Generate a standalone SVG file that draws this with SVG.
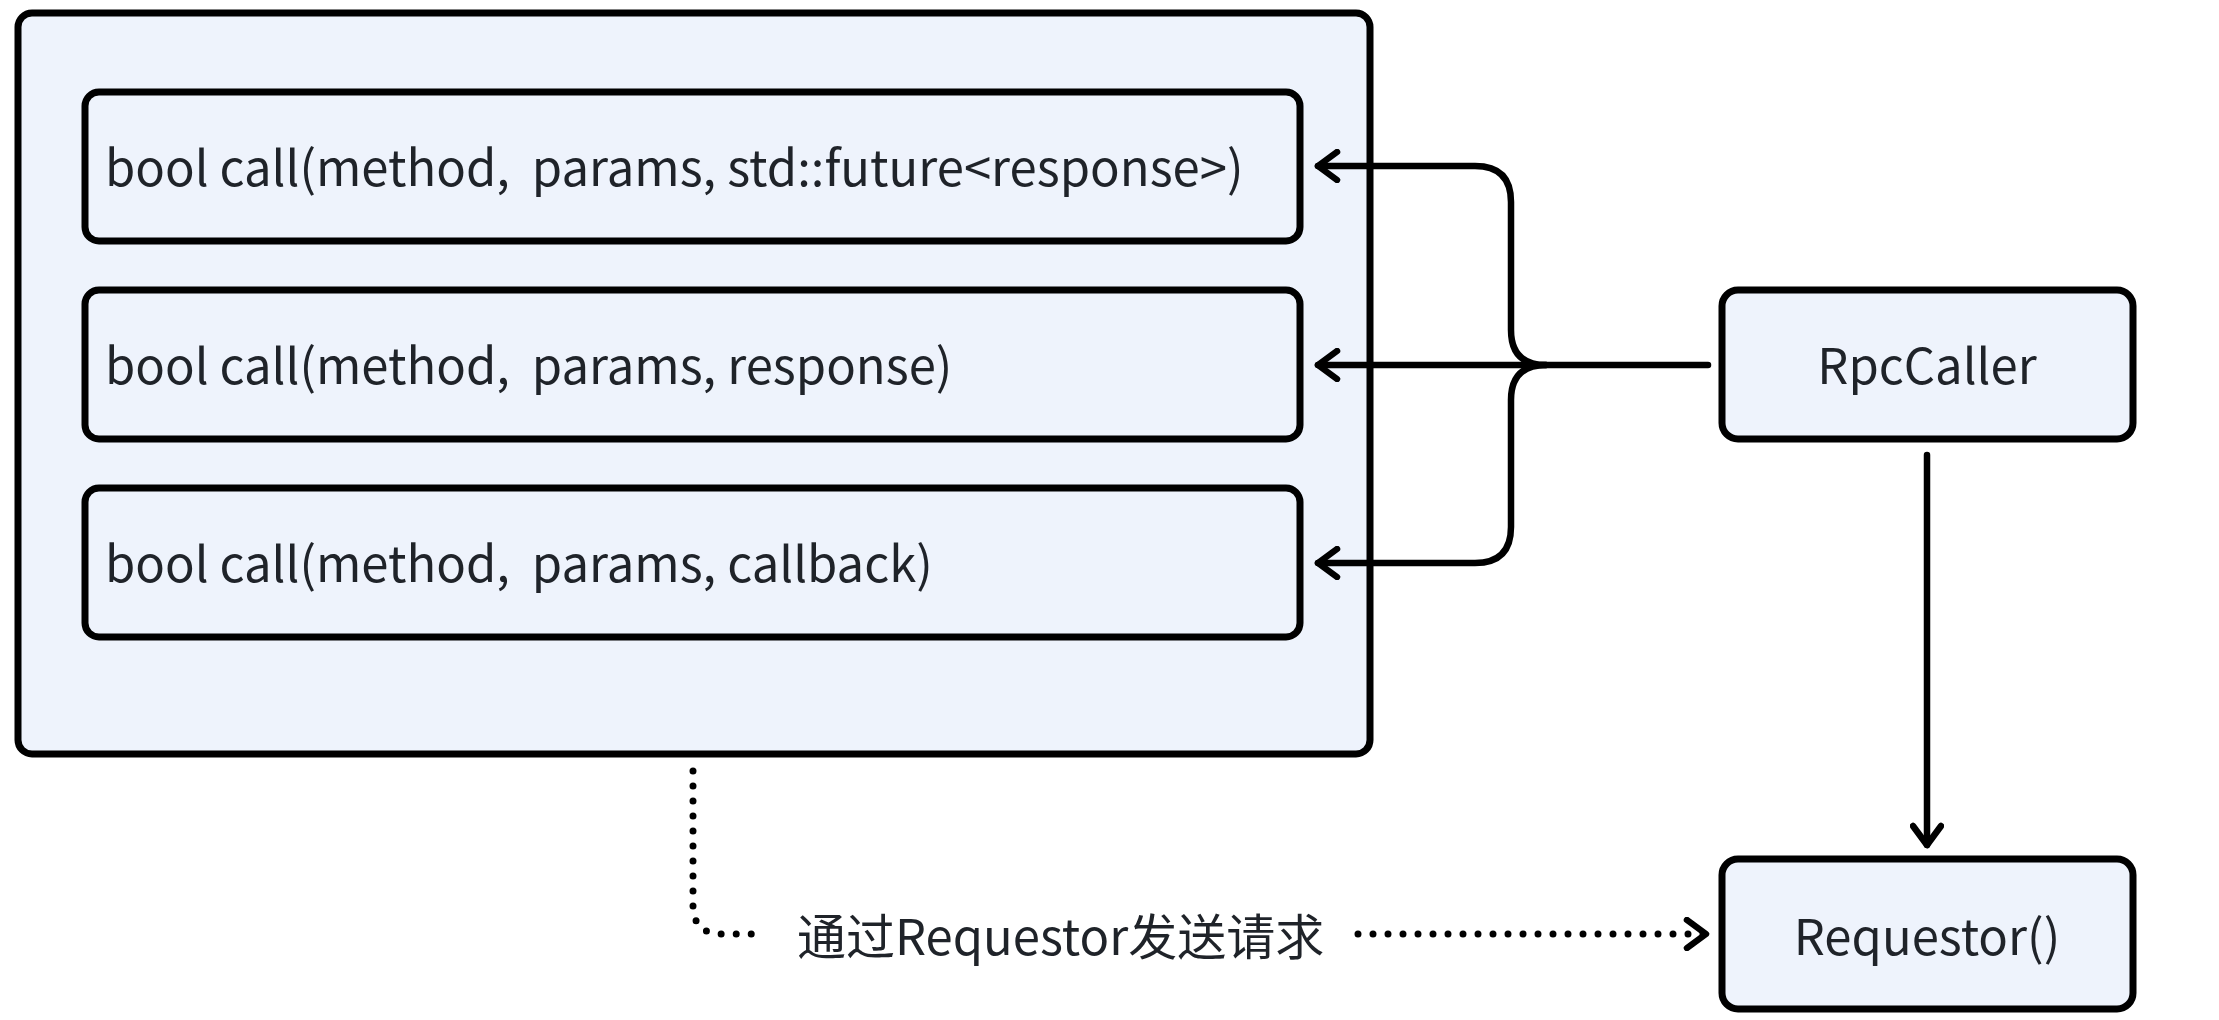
<svg xmlns="http://www.w3.org/2000/svg" width="2219" height="1020" viewBox="0 0 2219 1020">
<style>
.box{fill:#eef3fc;stroke:#000;stroke-width:7}
.t{font-family:"Noto Sans CJK SC","Noto Sans",sans-serif;font-size:49px;fill:#1f2329;white-space:pre}
.c{fill:none;stroke:#000;stroke-width:6.5;stroke-linecap:round;stroke-linejoin:round}
.d{stroke-width:7;stroke-dasharray:0 15}
</style>
<defs>
<marker id="a" viewBox="0 0 30 34" refX="25" refY="17" markerWidth="30" markerHeight="34" markerUnits="userSpaceOnUse" orient="auto">
<path d="M6,3 L25,17 L6,31" fill="none" stroke="#000" stroke-width="6.5" stroke-linecap="round" stroke-linejoin="round"/>
</marker>
</defs>
<rect width="2219" height="1020" fill="#fff"/>
<g id="container"><rect class="box" x="18" y="13" width="1352" height="741" rx="14"/></g>
<g id="call1"><rect class="box" x="85" y="92" width="1215" height="149" rx="14"/><text class="t" x="105" y="186" xml:space="preserve">bool call(method,  params, std::future&lt;response&gt;)</text></g>
<g id="call2"><rect class="box" x="85" y="290" width="1215" height="149" rx="14"/><text class="t" x="105" y="384" xml:space="preserve">bool call(method,  params, response)</text></g>
<g id="call3"><rect class="box" x="85" y="488" width="1215" height="149" rx="14"/><text class="t" x="105" y="582" xml:space="preserve">bool call(method,  params, callback)</text></g>
<g id="rpccaller"><rect class="box" x="1722" y="290" width="411" height="149" rx="16"/><text class="t" x="1927" y="384" text-anchor="middle">RpcCaller</text></g>
<g id="requestor"><rect class="box" x="1722" y="859" width="411" height="150" rx="16"/><text class="t" x="1927" y="955" text-anchor="middle">Requestor()</text></g>
<g id="connectors">
<path class="c" d="M1708,365 H1318" marker-end="url(#a)"/>
<path class="c" d="M1546,365 Q1511,365 1511,330 V202 Q1511,166 1475,166 H1318" marker-end="url(#a)"/>
<path class="c" d="M1546,365 Q1511,365 1511,400 V527 Q1511,563 1475,563 H1318" marker-end="url(#a)"/>
<path class="c" d="M1927,455 V845" marker-end="url(#a)"/>
<path class="c d" d="M693,771 V905 Q693,934 722,934 H764"/>
<path class="c d" d="M1358,934 H1706" marker-end="url(#a)"/>
<text class="t" x="797" y="955">通过Requestor发送请求</text>
</g>
</svg>
